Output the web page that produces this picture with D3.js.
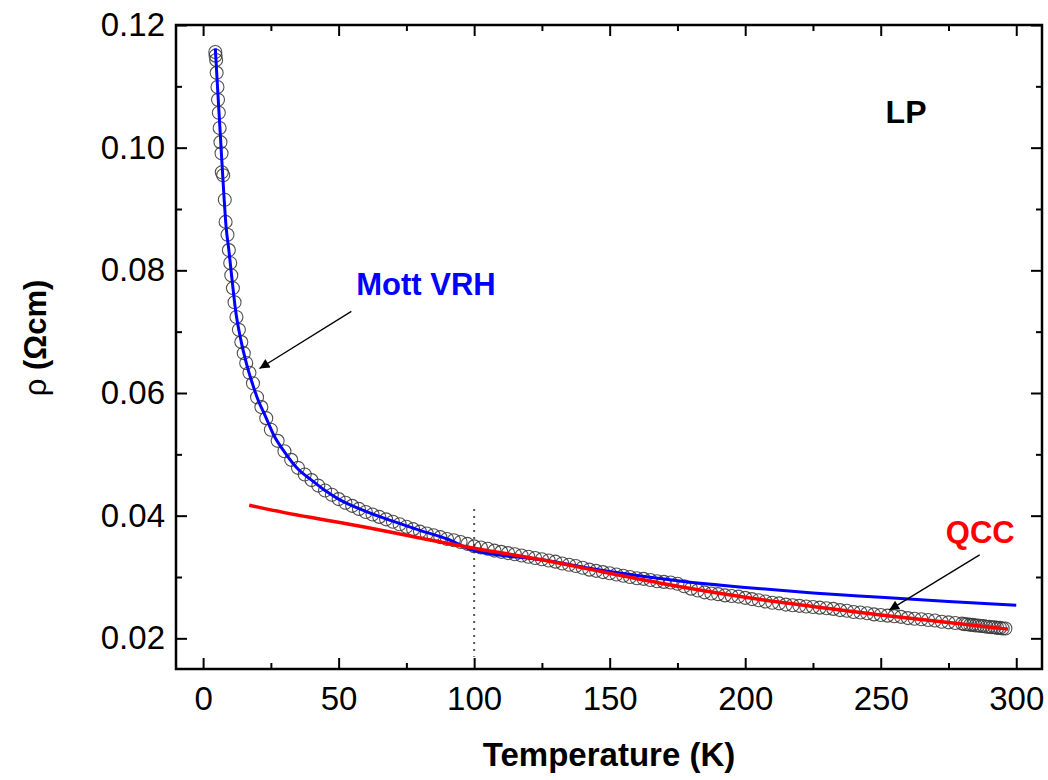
<!DOCTYPE html>
<html lang="en">
<head>
    <meta charset="UTF-8">
    <script src="https://cdn.jsdelivr.net/npm/d3@7"></script>
    <title>LP resistivity</title>
    <style>
        body { margin: 0; background: white; }
        text { font-family: Arial, "Liberation Sans", sans-serif; }
        .tick text { font-size: 33px; fill: black; }
        .tick line { stroke: black; stroke-width: 2px; }
    </style>
</head>
<body>
<div class="fig"></div>
<script>
    // measured points (T in K, rho in Ohm cm)
    const tempData = [4.5, 4.6, 4.8, 5.0, 5.3, 5.5, 5.8, 6.1, 6.4, 6.8, 6.9, 7.4, 8.0, 8.3,
        9.0, 9.5, 10.0, 10.4, 11.0, 11.6, 12.3, 13.2, 14.1, 15.0, 15.9, 17.1, 18.4, 19.9, 21.5, 23.3,
        25, 27.5, 30, 32.5, 35, 37.5, 40, 42.5, 45, 47.5, 50, 52.5, 55, 57.5, 60, 62.5, 65, 67.5,
        70, 72.5, 75, 77.5, 80, 82.5, 85, 87.5, 90, 92.5, 95, 97.5, 100, 102.5, 105, 107.5,
        110, 112.5, 115, 117.5, 120, 122.5, 125, 127.5, 130, 132.5, 135, 137.5, 140, 142.5,
        145, 147.5, 150, 152.5, 155, 157.5, 160, 162.5, 165, 167.5, 170, 172.5, 175, 177.5,
        180, 182.5, 185, 187.5, 190, 192.5, 195, 197.5, 200, 202.5, 205, 207.5, 210, 212.5,
        215, 217.5, 220, 222.5, 225, 227.5, 230, 232.5, 235, 237.5, 240, 242.5, 245, 247.5,
        250, 252.5, 255, 257.5, 260, 262.5, 265, 267.5, 270, 272.5, 275, 277.5, 280,
        281, 282, 283, 284, 285, 286, 287, 288, 289, 290, 291, 292, 293, 294, 295, 296];
    const rhoData = [0.1156, 0.1150, 0.1143, 0.1122, 0.1099, 0.1078, 0.1057, 0.1032, 0.1009, 0.0991, 0.0960, 0.0955, 0.0915, 0.0879,
        0.0858, 0.0833, 0.0812, 0.0792, 0.0771, 0.0748, 0.0724, 0.0703, 0.0683, 0.0665, 0.0649, 0.0633, 0.0616, 0.0593, 0.0577, 0.0559,
        0.0540, 0.0522, 0.0505, 0.0491, 0.0478, 0.0467, 0.0458, 0.0449, 0.0441, 0.0434, 0.0427, 0.0421, 0.0416, 0.0411, 0.0406, 0.0402, 0.0398, 0.0394,
        0.0390, 0.0386, 0.0382, 0.0378, 0.0374, 0.0371, 0.0368, 0.0365, 0.0362, 0.0360, 0.0357, 0.0354, 0.0350, 0.0348, 0.0346, 0.0343,
        0.0341, 0.0339, 0.0337, 0.0335, 0.0333, 0.0331, 0.0329, 0.0327, 0.0325, 0.0322, 0.0320, 0.0318, 0.0315, 0.0312,
        0.0310, 0.0308, 0.0306, 0.0304, 0.0302, 0.0300, 0.0298, 0.0297, 0.0295, 0.0293, 0.0292, 0.0291, 0.0289, 0.0285,
        0.0281, 0.0278, 0.0275, 0.0273, 0.0272, 0.0270, 0.0269, 0.0268, 0.0266, 0.0264, 0.0262, 0.0260, 0.0258, 0.0257,
        0.0255, 0.0254, 0.0253, 0.0252, 0.0251, 0.0250, 0.0249, 0.0248, 0.0246, 0.0245, 0.0243, 0.0242, 0.0241, 0.0239,
        0.0238, 0.0237, 0.0236, 0.0235, 0.0233, 0.0232, 0.0231, 0.0230, 0.0229, 0.0227, 0.0226, 0.0225, 0.0224,
        0.0223, 0.0223, 0.0222, 0.0222, 0.0221, 0.0221, 0.0220, 0.0220, 0.0219, 0.0219, 0.0218, 0.0218, 0.0217, 0.0217, 0.0216, 0.0216];

    // Mott VRH fit (blue)
    const mottT = [4.5, 5.5, 6.5, 7.5, 8.5, 9.5, 10.5, 12, 14, 16, 18, 20, 23, 26, 30, 35, 40, 45, 50,
        60, 70, 80, 90, 100, 125, 150, 175, 200, 225, 250, 275, 300];
    const mottRho = [0.1162, 0.1085, 0.1010, 0.0935, 0.0870, 0.0833, 0.0792, 0.0734, 0.0685, 0.0648, 0.0618, 0.0592, 0.0562, 0.0532, 0.0504, 0.0476, 0.0458, 0.0441, 0.0427,
        0.0407, 0.0391, 0.0376, 0.0362, 0.0343, 0.0328, 0.0309, 0.0294, 0.0283, 0.0274, 0.0267, 0.0260, 0.0254];

    // QCC fit (red)
    const qccT = [17, 30, 45, 60, 75, 90, 100, 125, 150, 175, 200, 225, 250, 275, 297];
    const qccRho = [0.0417, 0.0405, 0.0393, 0.0381, 0.0368, 0.0355, 0.0347, 0.0328, 0.0306, 0.0285, 0.0267, 0.0252, 0.0238, 0.0226, 0.0215];

    const xMajor = [0, 50, 100, 150, 200, 250, 300];
    const xMinor = [25, 75, 125, 175, 225, 275];
    const yMajor = [0.02, 0.04, 0.06, 0.08, 0.10, 0.12];
    const yMinor = [0.03, 0.05, 0.07, 0.09, 0.11];

    const width = 1048, height = 780;
    const frame = {left: 176, right: 1042, top: 25, bottom: 669};

    const svg = d3.select(".fig").append("svg")
        .attr("width", width)
        .attr("height", height);

    const x = d3.scaleLinear().domain([-10, 309.5]).range([frame.left, frame.right]);
    const y = d3.scaleLinear().domain([0.015, 0.12]).range([frame.bottom, frame.top]);

    // axes, ticks pointing inward
    const addAxis = (axis, tx, ty) => {
        const g = svg.append("g").attr("transform", `translate(${tx},${ty})`).call(axis);
        g.select(".domain").remove();
        return g;
    };
    addAxis(d3.axisBottom(x).tickValues(xMajor).tickSize(-11).tickPadding(18), 0, frame.bottom);
    addAxis(d3.axisBottom(x).tickValues(xMinor).tickSize(-6).tickFormat(""), 0, frame.bottom);
    addAxis(d3.axisTop(x).tickValues(xMajor).tickSize(-11).tickFormat(""), 0, frame.top);
    addAxis(d3.axisTop(x).tickValues(xMinor).tickSize(-6).tickFormat(""), 0, frame.top);
    addAxis(d3.axisLeft(y).tickValues(yMajor).tickSize(-11).tickPadding(11).tickFormat(d3.format(".2f")), frame.left, 0);
    addAxis(d3.axisLeft(y).tickValues(yMinor).tickSize(-6).tickFormat(""), frame.left, 0);
    addAxis(d3.axisRight(y).tickValues(yMajor).tickSize(-11).tickFormat(""), frame.right, 0);
    addAxis(d3.axisRight(y).tickValues(yMinor).tickSize(-6).tickFormat(""), frame.right, 0);

    // dotted marker at 100 K
    svg.append("line")
        .attr("x1", x(100)).attr("x2", x(100))
        .attr("y1", y(0.0411)).attr("y2", y(0.0170))
        .attr("stroke", "#555")
        .attr("stroke-width", 2)
        .attr("stroke-dasharray", "2,5");

    // data circles
    const points = tempData.map((t, i) => ({t: t, r: rhoData[i]}));
    svg.append("g").selectAll("circle")
        .data(points)
        .enter()
        .append("circle")
        .attr("cx", d => x(d.t))
        .attr("cy", d => y(d.r))
        .attr("r", 6.5)
        .attr("fill", "none")
        .attr("stroke", "#333")
        .attr("stroke-opacity", 0.85)
        .attr("stroke-width", 1.1);

    const line = d3.line().x(d => x(d[0])).y(d => y(d[1])).curve(d3.curveMonotoneX);

    svg.append("path")
        .attr("d", line(mottT.map((t, i) => [t, mottRho[i]])))
        .attr("fill", "none")
        .attr("stroke", "#0000ff")
        .attr("stroke-width", 3);

    svg.append("path")
        .attr("d", line(qccT.map((t, i) => [t, qccRho[i]])))
        .attr("fill", "none")
        .attr("stroke", "#ff0000")
        .attr("stroke-width", 3.5);

    // arrows
    svg.append("defs").append("marker")
        .attr("id", "head")
        .attr("viewBox", "0 0 10 10")
        .attr("refX", 10).attr("refY", 5)
        .attr("markerWidth", 16).attr("markerHeight", 10)
        .attr("markerUnits", "userSpaceOnUse")
        .attr("orient", "auto")
        .append("path")
        .attr("d", "M0,0 L10,5 L0,10 Z")
        .attr("fill", "black");

    const arrows = [
        [[54.7, 0.0733], [20.8, 0.0640]],
        [[286.5, 0.0336], [253.1, 0.0246]]
    ];
    arrows.forEach(a => {
        svg.append("line")
            .attr("x1", x(a[0][0])).attr("y1", y(a[0][1]))
            .attr("x2", x(a[1][0])).attr("y2", y(a[1][1]))
            .attr("stroke", "black")
            .attr("stroke-width", 1.3)
            .attr("marker-end", "url(#head)");
    });

    // labels
    svg.append("text").attr("x", x(56.5)).attr("y", y(0.0760))
        .attr("font-size", 31).attr("font-weight", "bold").attr("fill", "#0000ff")
        .text("Mott VRH");
    svg.append("text").attr("x", x(274)).attr("y", y(0.0355))
        .attr("font-size", 31).attr("font-weight", "bold").attr("fill", "#ff0000")
        .text("QCC");
    svg.append("text").attr("x", x(251.8)).attr("y", y(0.1040))
        .attr("font-size", 32).attr("font-weight", "bold").attr("fill", "black")
        .text("LP");

    // frame
    svg.append("rect")
        .attr("x", frame.left).attr("y", frame.top)
        .attr("width", frame.right - frame.left)
        .attr("height", frame.bottom - frame.top)
        .attr("fill", "none")
        .attr("stroke", "black")
        .attr("stroke-width", 2.5);

    // axis titles
    svg.append("text")
        .attr("x", (frame.left + frame.right) / 2)
        .attr("y", 766)
        .attr("text-anchor", "middle")
        .attr("font-size", 33).attr("font-weight", "bold")
        .text("Temperature (K)");

    const yTitle = svg.append("text")
        .attr("transform", "translate(46,338) rotate(-90)")
        .attr("text-anchor", "middle")
        .attr("font-size", 31);
    yTitle.append("tspan").text("ρ ");
    yTitle.append("tspan").attr("font-weight", "bold").text("(Ωcm)");
</script>
</body>
</html>
